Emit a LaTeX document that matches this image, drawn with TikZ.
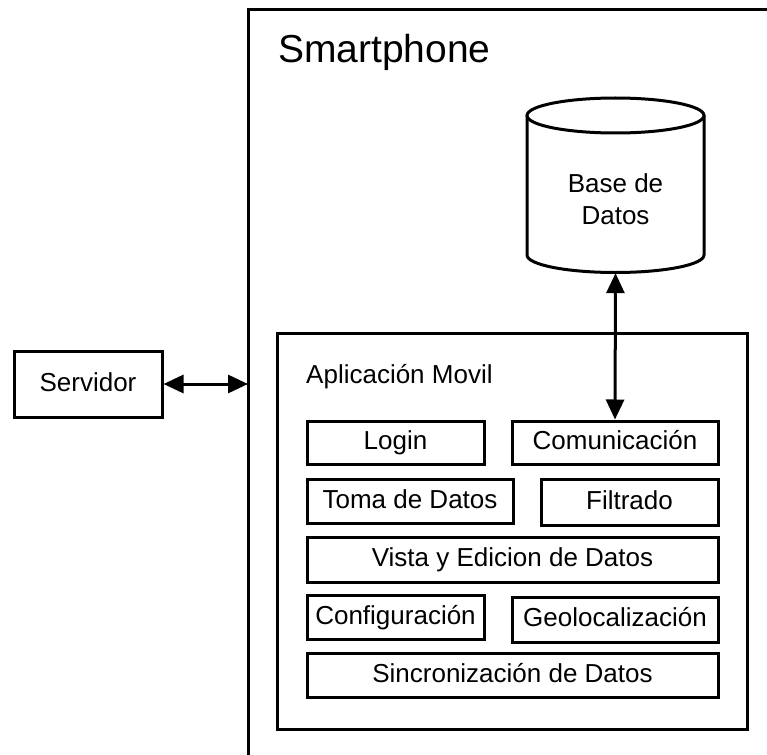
\documentclass[tikz,border=0pt]{standalone}
\usepackage{fontspec}
\setmainfont{Liberation Sans}
\usetikzlibrary{arrows.meta}

\tikzset{
  module/.style={draw, line width=3pt, rectangle, inner sep=0pt,
    text height=16pt, text depth=2pt,
    font=\fontsize{26}{30}\selectfont},
  frame/.style={draw, line width=3pt},
  link/.style={line width=3pt,
    {Triangle[length=20pt,width=18pt]}-{Triangle[length=20pt,width=18pt]}},
  label/.style={inner sep=0pt, font=\fontsize{26}{32}\selectfont}
}

\begin{document}
\begin{tikzpicture}[x=1pt, y=-1pt]
  \useasboundingbox (0,0) rectangle (767,754);
  \clip (0,0) rectangle (767,754);

  % outer smartphone frame (runs past the page edges)
  \draw[frame] (248,10) rectangle (800,800);
  \node[anchor=base west, inner sep=0pt, font=\fontsize{39}{44}\selectfont]
    (phone) at (278,63) {Smartphone};

  % server
  \node[module, minimum width=148pt, minimum height=66pt] (srv) at (88,384) {Servidor};
  \coordinate (phoneedge) at (248,384);
  \draw[link] (srv.east) -- (phoneedge);

  % database cylinder
  \node[minimum width=177pt, minimum height=175pt, inner sep=0pt]
    (db) at (615.5,185.5) {};
  \draw[line width=3pt] (615.5,115.5) ellipse [x radius=88.5, y radius=17.5];
  \draw[line width=3pt] (527,115.5) -- (527,255)
    .. controls (527,264.7) and (566.6,272.5) .. (615.5,272.5)
    .. controls (664.4,272.5) and (704,264.7) .. (704,255)
    -- (704,115.5);
  \node[label, align=center] (dbtext) at (615.5,199.5) {Base de\\Datos};

  % mobile application container
  \draw[frame] (277,333) rectangle (747,729);
  \node[label, anchor=base west] (app) at (306,383) {Aplicación Movil};

  % modules
  \node[module, minimum width=177pt, minimum height=43pt] (login) at (395.5,442.5) {Login};
  \node[module, minimum width=206pt, minimum height=43pt] (com) at (615,442.5) {Comunicación};
  \node[module, minimum width=206pt, minimum height=44pt] (toma) at (410,501) {Toma de Datos};
  \node[module, minimum width=177pt, minimum height=46pt] (filt) at (629.5,502) {Filtrado};
  \node[module, minimum width=411pt, minimum height=45pt] (vista) at (512.5,559.5) {Vista y Edicion de Datos};
  \node[module, minimum width=177pt, minimum height=44pt] (conf) at (395.5,617) {Configuración};
  \node[module, minimum width=206pt, minimum height=45pt] (geo) at (615,619.5) {Geolocalización};
  \node[module, minimum width=411pt, minimum height=44pt] (sinc) at (512.5,675) {Sincronización de Datos};

  % database link
  \draw[link] (db.south) -- (com.north);
\end{tikzpicture}
\end{document}
